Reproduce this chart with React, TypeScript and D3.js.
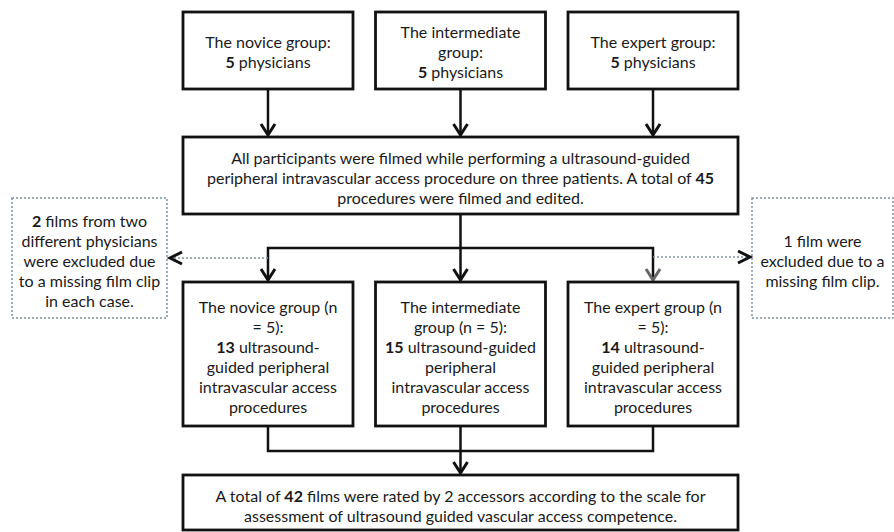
import { useEffect, useRef } from 'react';
import * as d3 from 'd3';

const groups = ['novice', 'intermediate', 'expert'];
const physicians = [5, 5, 5];
const filmsPerGroup = [13, 15, 14];
const totalFilmed = 45;
const totalRated = 42;
const excludedLeft = 2;
const excludedRight = 1;
const raters = 2;

// line breaks follow the original figure, *x* = bold
const topLines = [
  ['The novice group:', `*${physicians[0]}* physicians`],
  ['The intermediate', 'group:', `*${physicians[1]}* physicians`],
  ['The expert group:', `*${physicians[2]}* physicians`],
];
const lowerLines = [
  ['The novice group (n', `= ${physicians[0]}):`, `*${filmsPerGroup[0]}* ultrasound-`, 'guided peripheral', 'intravascular access', 'procedures'],
  ['The intermediate', `group (n = ${physicians[1]}):`, `*${filmsPerGroup[1]}* ultrasound-guided`, 'peripheral', 'intravascular access', 'procedures'],
  ['The expert group (n', `= ${physicians[2]}):`, `*${filmsPerGroup[2]}* ultrasound-`, 'guided peripheral', 'intravascular access', 'procedures'],
];
const mainLines = [
  'All participants were filmed while performing a ultrasound-guided',
  `peripheral intravascular access procedure on three patients. A total of *${totalFilmed}*`,
  'procedures were filmed and edited.',
];
const leftNote = [`*${excludedLeft}* films from two`, 'different physicians', 'were excluded due', 'to a missing film clip', 'in each case.'];
const rightNote = [`${excludedRight} film were`, 'excluded due to a', 'missing film clip.'];
const bottomLines = [
  `A total of *${totalRated}* films were rated by ${raters} accessors according to the scale for`,
  'assessment of ultrasound guided vascular access competence.',
];

export default function App() {
  const svgRef = useRef<SVGSVGElement>(null);

  useEffect(() => {
    if (!svgRef.current) return;
    const W = 894;
    const H = 532;
    const svg = d3.select(svgRef.current);
    svg.selectAll('*').remove();
    svg.attr('width', W).attr('height', H);

    svg.append('rect').attr('width', W).attr('height', H).attr('fill', '#fff');

    const ink = '#111';
    const dotted = '#7d92a6';
    const font = 'Lato, "Open Sans", sans-serif';
    const fs = 16;
    const lh = 20;

    const x = d3.scaleBand<string>().domain(groups).range([183, 738]).paddingInner(0.117);
    const bw = x.bandwidth();
    const cx = (g: string) => x(g)! + bw / 2;
    const midX = (183 + 738) / 2;

    const rows = { top: [12, 89], main: [137, 214], split: 248, lower: [282, 426], join: 451, bottom: [475, 530] };

    const addText = (lines: string[], cxv: number, cy: number) => {
      const n = lines.length;
      lines.forEach((line, i) => {
        const t = svg
          .append('text')
          .attr('x', cxv)
          .attr('y', cy + (i - (n - 1) / 2) * lh)
          .attr('text-anchor', 'middle')
          .attr('dominant-baseline', 'central')
          .style('font-family', font)
          .style('font-size', `${fs}px`)
          .style('fill', '#1a1a1a');
        line.split('*').forEach((seg, j) => {
          if (!seg) return;
          t.append('tspan').text(seg).style('font-weight', j % 2 === 1 ? 'bold' : 'normal');
        });
      });
    };

    const box = (x0: number, y0: number, x1: number, y1: number) => {
      svg
        .append('rect')
        .attr('x', x0)
        .attr('y', y0)
        .attr('width', x1 - x0)
        .attr('height', y1 - y0)
        .attr('fill', 'none')
        .attr('stroke', ink)
        .attr('stroke-width', 2.8);
    };

    const dotBox = (x0: number, y0: number, x1: number, y1: number) => {
      svg
        .append('rect')
        .attr('x', x0)
        .attr('y', y0)
        .attr('width', x1 - x0)
        .attr('height', y1 - y0)
        .attr('fill', 'none')
        .attr('stroke', dotted)
        .attr('stroke-width', 1.5)
        .attr('stroke-dasharray', '2,2');
    };

    const path = (pts: [number, number][], color = ink, width = 2.5, dash = '') => {
      svg
        .append('path')
        .attr('d', d3.line()(pts))
        .attr('fill', 'none')
        .attr('stroke', color)
        .attr('stroke-width', width)
        .attr('stroke-dasharray', dash || null)
        .attr('stroke-linejoin', 'miter');
    };

    const arrowDown = (xv: number, tip: number, color = ink) => {
      path([[xv - 7, tip - 11], [xv, tip], [xv + 7, tip - 11]], color, 3);
    };
    const arrowSide = (xv: number, yv: number, dir: number) => {
      path([[xv - dir * 12, yv - 6], [xv, yv], [xv - dir * 12, yv + 6]], ink, 3);
    };

    // top boxes and arrows into main box
    groups.forEach((g, i) => {
      box(x(g)!, rows.top[0], x(g)! + bw, rows.top[1]);
      addText(topLines[i], cx(g), (rows.top[0] + rows.top[1]) / 2);
      path([[cx(g), rows.top[1]], [cx(g), rows.main[0] - 2]]);
      arrowDown(cx(g), rows.main[0] - 2);
    });

    box(183, rows.main[0], 738, rows.main[1]);
    addText(mainLines, midX, (rows.main[0] + rows.main[1]) / 2 + 1);

    // split into three groups
    path([[midX, rows.main[1]], [midX, rows.split]]);
    path([[cx(groups[0]), rows.lower[0] - 2], [cx(groups[0]), rows.split], [cx(groups[2]), rows.split], [cx(groups[2]), rows.lower[0] - 2]]);
    path([[midX, rows.split], [midX, rows.lower[0] - 2]]);
    arrowDown(cx(groups[0]), rows.lower[0] - 2);
    arrowDown(midX, rows.lower[0] - 2);
    arrowDown(cx(groups[2]), rows.lower[0] - 2, '#666');

    // exclusion notes
    const noteY = [198, 318];
    dotBox(12, noteY[0], 167, noteY[1]);
    dotBox(752, noteY[0], 893, noteY[1]);
    path([[cx(groups[0]), 258], [172, 258]], dotted, 1.5, '2,2');
    arrowSide(170, 258, -1);
    path([[cx(groups[2]), 257], [748, 257]], dotted, 1.5, '2,2');
    arrowSide(750, 257, 1);
    addText(leftNote, (12 + 167) / 2, 260);
    addText(rightNote, (752 + 893) / 2, 260);

    // lower boxes
    groups.forEach((g, i) => {
      box(x(g)!, rows.lower[0], x(g)! + bw, rows.lower[1]);
      addText(lowerLines[i], cx(g), (rows.lower[0] + rows.lower[1]) / 2 + 2);
    });

    // join to final box
    path([[cx(groups[0]), rows.lower[1]], [cx(groups[0]), rows.join], [cx(groups[2]), rows.join], [cx(groups[2]), rows.lower[1]]]);
    path([[midX, rows.lower[1]], [midX, rows.bottom[0] - 2]]);
    arrowDown(midX, rows.bottom[0] - 2);

    box(183, rows.bottom[0], 738, rows.bottom[1]);
    addText(bottomLines, midX, 505);
  }, []);

  return <svg ref={svgRef} style={{ position: 'absolute', left: 0, top: 0, display: 'block' }} />;
}
